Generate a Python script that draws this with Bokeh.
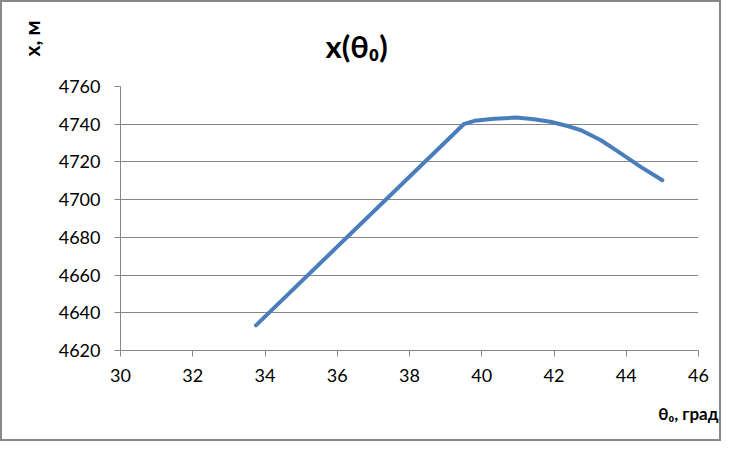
from bokeh.plotting import figure
from bokeh.models import Range1d, FixedTicker, Title
from bokeh.embed import file_html
from bokeh.resources import INLINE

# data
theta0 = [33.75, 39.5, 39.8, 40.35, 40.95, 41.45, 41.9, 42.4, 42.75, 43.3, 43.85, 44.4, 45.0]
x_dist = [4633.3, 4740.0, 4741.8, 4742.9, 4743.5, 4742.6, 4741.3, 4738.9, 4736.8, 4731.5, 4724.5, 4717.4, 4710.3]
x_ticks = [30, 32, 34, 36, 38, 40, 42, 44, 46]
y_ticks = [4620, 4640, 4660, 4680, 4700, 4720, 4740, 4760]
title_text = "x(θ₀)"
y_title = "x, м"
x_title = "θ₀, град"

FONT = "Lato"
p = figure(width=721, height=441, output_backend="svg", toolbar_location=None,
           x_range=Range1d(30, 46), y_range=Range1d(4620, 4760),
           min_border_left=118, min_border_right=25, min_border_top=84, min_border_bottom=93)
p.styles = {"border": "2px solid #888888"}
p.outline_line_color = None
p.background_fill_color = "white"
p.border_fill_color = "white"

p.line(theta0, x_dist, line_color="#4A7EBB", line_width=4, line_join="round", line_cap="round")

for ax in (p.xaxis[0], p.yaxis[0]):
    ax.axis_line_color = "#868686"
    ax.major_tick_line_color = "#868686"
    ax.major_tick_out = 6
    ax.major_tick_in = 0
    ax.minor_tick_line_color = None
    ax.major_label_text_font = FONT
    ax.major_label_text_font_size = "18px"
    ax.major_label_text_color = "black"
p.xaxis[0].ticker = FixedTicker(ticks=x_ticks)
p.yaxis[0].ticker = FixedTicker(ticks=y_ticks)
p.xaxis[0].major_label_standoff = 12
p.yaxis[0].major_label_standoff = 14

p.xgrid.visible = False
p.ygrid.grid_line_color = "#868686"
p.ygrid.grid_line_width = 1
p.ygrid.ticker = FixedTicker(ticks=y_ticks)

p.title.text = title_text
p.title.text_font = FONT
p.title.text_font_style = "bold"
p.title.text_font_size = "31px"
p.title.text_color = "black"
p.title.align = "left"
p.title.vertical_align = "top"
p.title.offset = 205
p.title.standoff = 40

p.add_layout(Title(text=y_title, align="right", offset=-66, standoff=24,
                   text_font=FONT, text_font_style="bold", text_font_size="21px",
                   text_color="black"), "left")
p.add_layout(Title(text=x_title, align="right", offset=-20, standoff=33,
                   text_font=FONT, text_font_style="bold", text_font_size="17px",
                   text_color="black"), "below")

open("out.html", "w").write(file_html(p, INLINE))
